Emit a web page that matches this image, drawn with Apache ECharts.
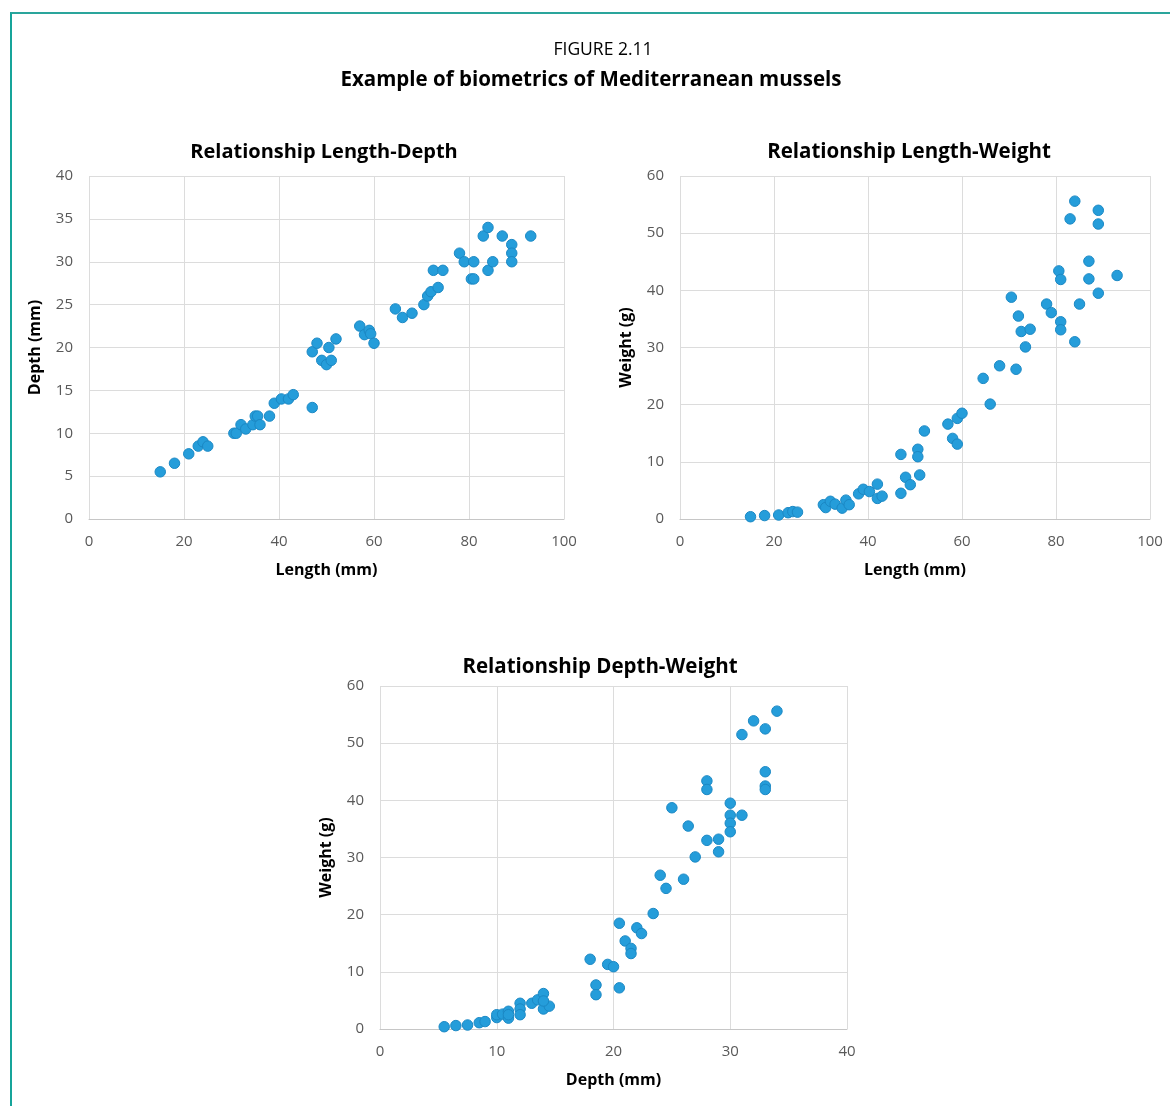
<!DOCTYPE html>
<html>
<head>
<meta charset="utf-8">
<script src="https://cdn.jsdelivr.net/npm/echarts@6/dist/echarts.min.js"></script>
<style>
  html, body { margin: 0; padding: 0; background: #fff; }
  #frame { position: absolute; left: 10px; top: 12px; width: 1170px; height: 1100px;
           border-top: 2px solid #2aa59c; border-left: 2px solid #16a49a; }
  #main { position: absolute; left: 0; top: 0; width: 1170px; height: 1106px; }
</style>
</head>
<body>
<div id="frame"></div>
<div id="main"></div>
<script>
  // Length (mm) vs Depth (mm)
  var lengthDepth = [
    [15,5.5],[18,6.5],[21,7.6],[23,8.5],[24,9],[25,8.5],[30.5,10],[31,10],[32,11],[33,10.5],
    [34.5,11],[35,12],[35.5,12],[36,11],[38,12],[39,13.5],[40.5,14],[42,14],[43,14.5],[47,13],
    [47,19.5],[48,20.5],[49,18.5],[50.5,20],[50,18],[51,18.5],[52,21],[57,22.5],[58,21.5],[59,22],
    [59.3,21.6],[60,20.5],[64.5,24.5],[66,23.5],[68,24],[70.5,25],[71.3,26],[72,26.5],[73.5,27],[72.5,29],
    [74.5,29],[78,31],[79,30],[81,30],[80.5,28],[81,28],[83,33],[84,34],[84,29],[85,30],
    [87,33],[89,32],[89,31],[89,30],[93,33]
  ];
  // Length (mm) vs Weight (g)
  var lengthWeight = [
    [15,0.4],[18,0.6],[21,0.7],[23,1.1],[24,1.3],[25,1.2],[30.5,2.5],[31,2],[32,3.1],[33,2.6],
    [34.5,1.9],[35.3,3.3],[36,2.5],[38,4.4],[39,5.2],[40.3,4.8],[42,6.1],[42,3.6],[43,4],[47,4.5],
    [47,11.3],[48,7.3],[49,6],[51,7.7],[50.6,12.2],[50.6,10.9],[52,15.4],[57,16.6],[59,17.6],[60,18.5],
    [58,14.1],[59,13.1],[64.5,24.6],[66,20.1],[68,26.8],[71.5,26.2],[70.5,38.8],[72,35.5],[72.6,32.8],[74.5,33.2],
    [73.5,30.1],[78,37.6],[79,36.1],[80.6,43.4],[81,41.9],[81,34.5],[81,33.1],[84,31],[83,52.5],[84,55.6],
    [85,37.6],[87,45.1],[87,42],[89,54],[89,51.6],[89,39.5],[93,42.6]
  ];
  // Depth (mm) vs Weight (g)
  var depthWeight = [
    [5.5,0.4],[6.5,0.6],[7.5,0.7],[8.5,1.1],[9,1.3],[10,2],[10,2.5],[10.5,2.6],[11,3.1],[11,1.9],
    [11,2.5],[12,4.5],[12,3.5],[12,2.5],[13,4.5],[13.5,5.1],[14,6.2],[14,3.5],[14.5,4],[14,4.9],
    [18,12.2],[18.5,7.7],[18.5,6],[19.5,11.3],[20,10.9],[20.5,7.2],[20.5,18.5],[21,15.4],[21.5,14.1],[21.5,13.2],
    [22,17.7],[22.4,16.7],[23.4,20.2],[24,26.9],[24.5,24.6],[25,38.7],[26,26.2],[26.4,35.5],[27,30.1],[28,43.4],
    [28,41.9],[28,33],[29,33.2],[29,31],[30,39.5],[30,37.4],[30,36],[30,34.5],[31,37.4],[31,51.5],
    [32,53.9],[33,52.5],[33,45],[33,42.5],[33,41.9],[34,55.6]
  ];

  var chartTitles = ['Relationship Length-Depth', 'Relationship Length-Weight', 'Relationship Depth-Weight'];
  var xNames = ['Length (mm)', 'Length (mm)', 'Depth (mm)'];
  var yNames = ['Depth (mm)', 'Weight (g)', 'Weight (g)'];
  var xMax = [100, 100, 40], xStep = [20, 20, 10];
  var yMax = [40, 60, 60], yStep = [5, 10, 10];

  var font = '"Open Sans", "Noto Sans", sans-serif';
  var grids = [
    { left: 89, top: 176, width: 475, height: 343 },
    { left: 680, top: 176, width: 470, height: 343 },
    { left: 380, top: 686, width: 467, height: 343 }
  ];

  function xAxisOf(i) {
    return {
      gridIndex: i, type: 'value', min: 0, max: xMax[i], interval: xStep[i],
      name: xNames[i], nameLocation: 'middle', nameGap: 43,
      nameTextStyle: { color: '#000', fontSize: 16, fontWeight: 'bold', fontFamily: font },
      axisLine: { show: true, lineStyle: { color: '#c6c6c6', width: 1 } },
      axisTick: { show: false },
      axisLabel: { color: '#595959', fontSize: 15, fontFamily: font, margin: 15 },
      splitLine: { show: true, lineStyle: { color: '#dcdcdc', width: 1 } }
    };
  }
  function yAxisOf(i) {
    return {
      gridIndex: i, type: 'value', min: 0, max: yMax[i], interval: yStep[i],
      name: yNames[i], nameLocation: 'middle', nameGap: 46,
      nameTextStyle: { color: '#000', fontSize: 16, fontWeight: 'bold', fontFamily: font },
      axisLine: { show: false },
      axisTick: { show: false },
      axisLabel: { color: '#595959', fontSize: 15, fontFamily: font, margin: 16 },
      splitLine: { show: true, lineStyle: { color: '#dcdcdc', width: 1 } }
    };
  }
  function seriesOf(i, data) {
    return {
      type: 'scatter', xAxisIndex: i, yAxisIndex: i, data: data,
      symbolSize: 10.5,
      itemStyle: { color: '#259dda', borderColor: '#1b88c4', borderWidth: 1, opacity: 1 }
    };
  }
  function titleOf(text, x, y, size, weight) {
    return { text: text, left: x, top: y, textAlign: 'center', padding: 0,
      textStyle: { fontSize: size, fontWeight: weight, color: '#000', fontFamily: font } };
  }

  var myChart = echarts.init(document.getElementById('main'));
  var option = {
    backgroundColor: 'transparent',
    animation: false,
    title: [
      titleOf('FIGURE 2.11', 603, 41, 17.5, 'normal'),
      titleOf('Example of biometrics of Mediterranean mussels', 591, 70, 20.5, 'bold'),
      titleOf(chartTitles[0], 324, 142, 20, 'bold'),
      titleOf(chartTitles[1], 909, 142, 20.5, 'bold'),
      titleOf(chartTitles[2], 600, 657, 20.5, 'bold')
    ],
    grid: grids,
    xAxis: [xAxisOf(0), xAxisOf(1), xAxisOf(2)],
    yAxis: [yAxisOf(0), yAxisOf(1), yAxisOf(2)],
    series: [seriesOf(0, lengthDepth), seriesOf(1, lengthWeight), seriesOf(2, depthWeight)]
  };
  myChart.setOption(option);
</script>
</body>
</html>
